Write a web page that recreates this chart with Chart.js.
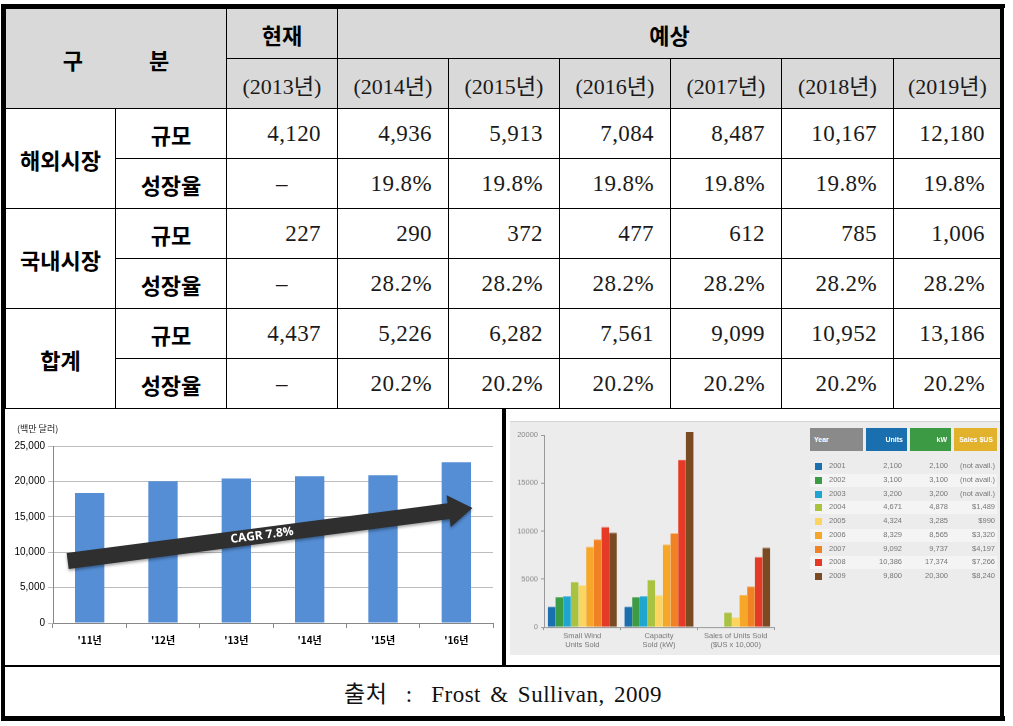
<!DOCTYPE html>
<html><head><meta charset="utf-8">
<script src="https://cdn.jsdelivr.net/npm/chart.js@4.4.0/dist/chart.umd.min.js"></script>
<style>
body{margin:0;background:#fff;width:1013px;height:726px;position:relative;overflow:hidden;font-family:"Noto Sans CJK KR",sans-serif;}
.abs{position:absolute;}
.cell{position:absolute;box-sizing:border-box;border:1px solid #000;display:flex;align-items:center;justify-content:center;font-size:22px;color:#1a1a1a;white-space:pre;}
.hd{background:#d9d9d9;}
.kb{font-family:"Noto Sans CJK KR",sans-serif;font-weight:bold;color:#000;}
.num{font-family:"Liberation Serif","DejaVu Serif",serif;font-size:23px;justify-content:flex-end;padding-right:16px;letter-spacing:0.4px;}
.yr{font-family:"Liberation Serif","Noto Sans CJK KR",serif;font-size:22px;}
.lg{position:absolute;font-family:"Liberation Sans",Arial,sans-serif;font-size:7.5px;color:#777;white-space:nowrap;}
</style>
</head><body>
<div id="root"></div>
<canvas id="c1" class="abs" width="497" height="258" style="left:5px;top:408px;"></canvas>
<canvas id="c2" class="abs" width="490" height="234" style="left:510px;top:421px;background:#ececec;border-top:1px solid #d4d4d4;"></canvas>
<div id="legend"></div>
<script>
// ---------------- DATA ----------------
const tableYears = ['(2013년)','(2014년)','(2015년)','(2016년)','(2017년)','(2018년)','(2019년)'];
const overseasSize   = [4120,4936,5913,7084,8487,10167,12180];
const overseasGrowth = [null,19.8,19.8,19.8,19.8,19.8,19.8];
const domesticSize   = [227,290,372,477,612,785,1006];
const domesticGrowth = [null,28.2,28.2,28.2,28.2,28.2,28.2];
const totalSize      = [4437,5226,6282,7561,9099,10952,13186];
const totalGrowth    = [null,20.2,20.2,20.2,20.2,20.2,20.2];

const leftCategories = ["'11년","'12년","'13년","'14년","'15년","'16년"];
const leftValues     = [18350,20030,20400,20730,20870,22700];
const leftUnit       = '(백만 달러)';
const cagrLabel      = 'CAGR 7.8%';

const rightCategories = [['Small Wind','Units Sold'],['Capacity','Sold (kW)'],['Sales of Units Sold','($US x 10,000)']];
const rightYears  = ['2001','2002','2003','2004','2005','2006','2007','2008','2009'];
const unitsSold   = [2100,3100,3200,4671,4324,8329,9092,10386,9800];
const kwSold      = [2100,3100,3200,4878,3285,8565,9737,17374,20300];
const salesUS     = [null,null,null,1489,990,3320,4197,7266,8240];
const legendHeads = ['Year','Units','kW','Sales $US'];

// ---------------- STYLE / LAYOUT ----------------
const yearColors = ['#1a6fae','#3c9b45','#1fa6d0','#a9c23f','#fbd560','#f6a72a','#f08224','#e53a26','#7a4a23'];
const headColors = ['#8a8a8a','#1a6fae','#3d9a44','#e2b22c'];
const colX = [5,115,226,337,448,559,670,781,893,1001];
const rowY = [8,58,108,158,208,258,308,358,408];

const root = document.getElementById('root');
function add(cls, css, html){const d=document.createElement('div');d.className=cls;d.style.cssText=css;d.innerHTML=html;root.appendChild(d);return d;}
function cell(c0,c1,r0,r1,html,cls){
  return add('cell '+(cls||''),`left:${colX[c0]}px;top:${rowY[r0]}px;width:${colX[c1]-colX[c0]+1}px;height:${rowY[r1]-rowY[r0]+1}px;`,html);
}
const fmt = v => v.toLocaleString('en-US');
// header
cell(0,2,0,2,'<span style="margin-right:66px">구</span><span>분</span>','hd kb');
cell(2,3,0,1,'현재','hd kb');
cell(3,9,0,1,'예상','hd kb');
tableYears.forEach((y,i)=>cell(2+i,3+i,1,2,y,'hd yr'));
const groups = [['해외시장',overseasSize,overseasGrowth],['국내시장',domesticSize,domesticGrowth],['합계',totalSize,totalGrowth]];
groups.forEach((g,gi)=>{
  const r=2+gi*2;
  cell(0,1,r,r+2,g[0],'kb');
  cell(1,2,r,r+1,'규모','kb');
  cell(1,2,r+1,r+2,'성장율','kb');
  g[1].forEach((v,i)=>cell(2+i,3+i,r,r+1,fmt(v),'num'));
  g[2].forEach((v,i)=>{
    const d=cell(2+i,3+i,r+1,r+2,v===null?'–':v.toFixed(1)+'%','num');
    if(v===null){d.style.justifyContent='center';d.style.paddingRight='0';}
  });
});

// frame lines
add('abs','left:1px;top:4px;width:1004px;height:4px;background:#000;','');
add('abs','left:1px;top:4px;width:4px;height:717px;background:#000;','');
add('abs','left:1000px;top:4px;width:4px;height:717px;background:#000;','');
add('abs','left:1px;top:716px;width:1004px;height:5px;background:#000;','');
add('abs','left:502px;top:408px;width:4px;height:258px;background:#000;','');
add('abs','left:5px;top:665px;width:996px;height:2px;background:#000;','');
add('abs','left:5px;top:667px;width:996px;height:49px;display:flex;align-items:center;justify-content:center;font-family:\'Liberation Serif\',\'Noto Sans CJK KR\',serif;font-size:23px;color:#111;white-space:pre;word-spacing:3px;letter-spacing:0.5px;','출처  :  Frost &amp; Sullivan, 2009');

// ---------------- LEFT CHART ----------------
const cagrArrow = {from:[-0.3,8750], to:[5.22,16250]};
const arrowPlugin = {
  id:'arrow',
  afterDatasetsDraw(chart){
    const {ctx, scales:{x,y}} = chart;
    const x0=x.getPixelForValue(cagrArrow.from[0]), y0=y.getPixelForValue(cagrArrow.from[1]);
    const x1=x.getPixelForValue(cagrArrow.to[0]),   y1=y.getPixelForValue(cagrArrow.to[1]);
    const ang=Math.atan2(y1-y0,x1-x0), len=Math.hypot(x1-x0,y1-y0);
    const sh=8, hh=16, hl=24;
    ctx.save();
    ctx.translate(x0,y0); ctx.rotate(ang);
    ctx.shadowColor='rgba(0,0,0,0.35)'; ctx.shadowBlur=3; ctx.shadowOffsetY=2;
    ctx.fillStyle='#2f2f2f';
    ctx.beginPath();
    ctx.moveTo(0,-sh); ctx.lineTo(len-hl,-sh); ctx.lineTo(len-hl,-hh); ctx.lineTo(len,0);
    ctx.lineTo(len-hl,hh); ctx.lineTo(len-hl,sh); ctx.lineTo(0,sh); ctx.closePath(); ctx.fill();
    ctx.shadowColor='transparent';
    ctx.fillStyle='#fff'; ctx.font='bold 12px "Open Sans", sans-serif'; ctx.textAlign='center'; ctx.textBaseline='middle';
    ctx.fillText(cagrLabel, len*0.48, 0);
    ctx.restore();
  },
  afterDraw(chart){
    const ctx=chart.ctx; ctx.save();
    ctx.fillStyle='#222'; ctx.font='9px "Noto Sans CJK KR", sans-serif'; ctx.textBaseline='middle';
    ctx.fillText(leftUnit, 12, 21); ctx.restore();
  }
};
new Chart(document.getElementById('c1'),{
  type:'bar',
  data:{labels:leftCategories,datasets:[{data:leftValues,backgroundColor:'#558ed5',categoryPercentage:0.8,barPercentage:0.5}]},
  options:{
    responsive:false,animation:false,
    layout:{padding:{left:0,right:9,top:38,bottom:0}},
    plugins:{legend:{display:false},tooltip:{enabled:false}},
    scales:{
      x:{grid:{display:true,drawOnChartArea:false,tickLength:5,color:'#888',offset:true},border:{color:'#888'},
         ticks:{font:{size:10,weight:'bold',family:'"Noto Sans CJK KR"'},color:'#000',padding:6},
         afterFit(s){s.height=43;}},
      y:{min:0,max:25000,ticks:{stepSize:5000,callback:v=>v.toLocaleString('en-US'),font:{size:10,family:'"Liberation Sans"'},color:'#000',padding:3},
         grid:{color:'#bdbdbd',tickLength:5},border:{color:'#888'},afterFit(s){s.width=48;}}
    }
  },
  plugins:[arrowPlugin]
});

// ---------------- RIGHT CHART ----------------
new Chart(document.getElementById('c2'),{
  type:'bar',
  data:{labels:rightCategories,datasets:rightYears.map((yr,i)=>({label:yr,data:[unitsSold[i],kwSold[i],salesUS[i]],backgroundColor:yearColors[i],categoryPercentage:0.9,barPercentage:0.98,clip:false}))},
  options:{
    responsive:false,animation:false,
    layout:{padding:{left:0,right:226,top:13,bottom:0}},
    plugins:{legend:{display:false},tooltip:{enabled:false}},
    scales:{
      x:{grid:{display:true,drawOnChartArea:false,tickLength:3,color:'#999'},border:{color:'#999'},
         ticks:{font:{size:7.5,family:'"Liberation Sans"'},color:'#777',padding:1},afterFit(s){s.height=28;}},
      y:{min:0,max:20000,ticks:{stepSize:5000,callback:v=>String(v),font:{size:7.5,family:'"Liberation Sans"'},color:'#888',padding:3},
         grid:{drawOnChartArea:false,tickLength:3,color:'#999'},border:{color:'#999'},afterFit(s){s.width=34;}}
    }
  }
});

// legend table (right image)
const lg=document.getElementById('legend');
function lgd(css,html){const d=document.createElement('div');d.className='lg';d.style.cssText=css;d.innerHTML=html;lg.appendChild(d);}
const headX=[[810,863],[866,907],[910,951],[954,997]];
legendHeads.forEach((h,i)=>lgd(`left:${headX[i][0]}px;top:428px;width:${headX[i][1]-headX[i][0]}px;height:23px;background:${headColors[i]};color:#fff;font-weight:bold;display:flex;align-items:center;box-sizing:border-box;padding:0 4px;font-size:7px;justify-content:${i===0?'flex-start':'flex-end'};`,h));
rightYears.forEach((yr,i)=>{
  const top=460+i*13.75;
  if(i%2===1) lgd(`left:810px;top:${top}px;width:187px;height:13px;background:#f4f4f4;`,'');
  lgd(`left:815px;top:${top+3}px;width:7px;height:7px;background:${yearColors[i]};`,'');
  lgd(`left:829px;top:${top+1}px;`,yr);
  lgd(`left:862px;top:${top+1}px;width:40px;text-align:right;`,fmt(unitsSold[i]));
  lgd(`left:908px;top:${top+1}px;width:40px;text-align:right;`,fmt(kwSold[i]));
  lgd(`left:945px;top:${top+1}px;width:50px;text-align:right;`,salesUS[i]===null?'(not avail.)':'$'+fmt(salesUS[i]));
});
</script>
</body></html>
